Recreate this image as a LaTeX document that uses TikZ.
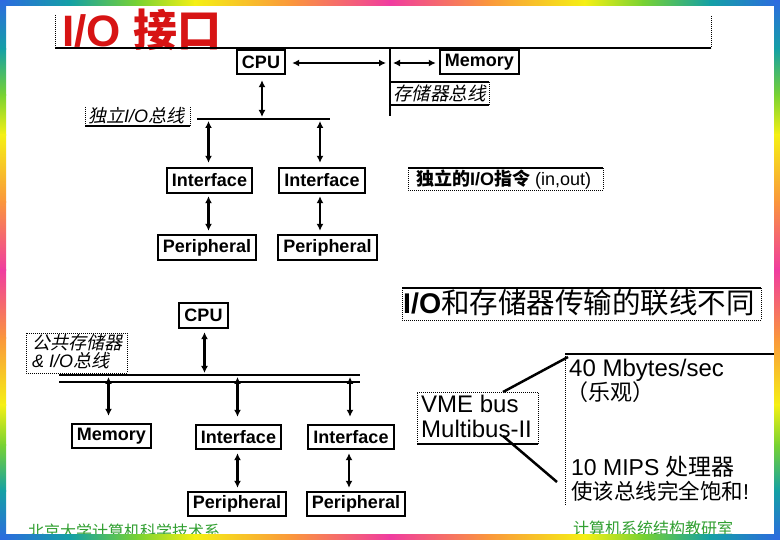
\documentclass[tikz,border=0pt]{standalone}
\usepackage{fontspec}
\setmainfont{Liberation Sans}
\newfontfamily\cjk{Noto Sans CJK SC}
\newfontfamily\cjkit{Noto Sans CJK SC}[FakeSlant=0.22]
\usetikzlibrary{arrows.meta,calc}
\definecolor{rbB}{RGB}{45,105,225}
\definecolor{rbT}{RGB}{20,160,165}
\definecolor{rbG}{RGB}{120,210,50}
\definecolor{rbY}{RGB}{245,240,20}
\definecolor{rbO}{RGB}{250,150,60}
\definecolor{rbP}{RGB}{240,60,160}
\definecolor{titlered}{RGB}{215,20,20}
\definecolor{footgreen}{RGB}{50,160,50}
\begin{document}
\begin{tikzpicture}[x=1pt,y=-1pt,
  box/.style={draw, line width=2.4pt, inner sep=0pt, font=\fontsize{18}{20}\selectfont\bfseries},
  arr/.style={line width=2.5pt, {Latex[length=7pt,width=7pt]}-{Latex[length=7pt,width=7pt]}},
  busline/.style={line width=2.5pt},
  dots/.style={line width=0.8pt, dash pattern=on 0.8pt off 1.2pt},
  thinline/.style={line width=1.1pt},
  lbl/.style={anchor=base west, inner sep=0pt},
  conn/.style={line width=2.5pt},
]
\useasboundingbox (0,0) rectangle (780,540);
\fill[white] (0,0) rectangle (780,540);

% ---------- title ----------
\node[lbl, text=titlered, font=\fontsize{44}{48}\selectfont\bfseries] (title) at (62,47) {I/O {\cjk\bfseries 接口}};
\draw[dots] (55,15) -- (55,48);
\draw[dots] (711,16) -- (711,48);
\draw[line width=1.3pt] (55,48) -- (711,48);

% ---------- upper diagram ----------
\node[box, minimum width=48pt, minimum height=24pt] (cpu1) at (261,62) {CPU};
\node[box, minimum width=79pt, minimum height=24pt] (mem1) at (479.5,62) {Memory};
\node[box, minimum width=85pt, minimum height=25pt] (if1) at (209.5,180.5) {Interface};
\node[box, minimum width=86pt, minimum height=25pt] (if2) at (322,180.5) {Interface};
\node[box, minimum width=98pt, minimum height=25pt] (p1) at (207,247.5) {Peripheral};
\node[box, minimum width=99pt, minimum height=25pt] (p2) at (327.5,247.5) {Peripheral};

\coordinate (mbT) at (390,48);
\coordinate (mbB) at (390,116);
\coordinate (bus1L) at (197,119);
\coordinate (bus1R) at (330,119);
\draw[busline] (mbT) -- (mbB);
\draw[busline] (bus1L) -- (bus1R);

\draw[arr] ($(cpu1.east)+(6,1)$) -- ($(mbT |- cpu1.east)+(-4,1)$);
\draw[arr] ($(mbT |- mem1.west)+(3,1)$) -- ($(mem1.west)+(-3,1)$);
\draw[arr] ($(cpu1.south)+(1,5)$) -- ($(cpu1.south |- bus1L)+(1,-2)$);
\draw[arr] ($(if1.north |- bus1L)+(-1,2)$) -- ($(if1.north)+(-1,-4)$);
\draw[arr] ($(if2.north |- bus1L)+(-2,2)$) -- ($(if2.north)+(-2,-4)$);
\draw[arr] ($(if1.south)+(-1,2)$) -- ($(if1.south |- p1.north)+(-1,-3)$);
\draw[arr] ($(if2.south)+(-2,2)$) -- ($(if2.south |- p2.north)+(-2,-3)$);

% labels upper
\node[lbl, font=\fontsize{18}{20}\selectfont] (lbus1) at (88,123) {{\cjkit 独立}\textit{I/O}{\cjkit 总线}};
\draw[dots] (85,107) -- (85,126);
\draw[dots] (190,107) -- (190,126);
\draw[thinline] (85,126) -- (190,126);

\node[lbl, font=\fontsize{18.5}{20}\selectfont] (lmbus) at (393,101) {{\cjkit 存储器总线}};
\draw[thinline] (390,82) -- (489,82);
\draw[thinline] (390,105) -- (489,105);
\draw[dots] (489,82) -- (489,105);

\node[lbl, font=\fontsize{18}{20}\selectfont] (lins) at (416,186) {{\cjk\bfseries 独立的}\textbf{I/O}{\cjk\bfseries 指令} (in,out)};
\draw[thinline] (408,168) -- (603,168);
\draw[dots] (408,168) -- (408,190) -- (603,190) -- (603,168);

\node[lbl, font=\fontsize{28.5}{30}\selectfont] (ldiff) at (403,314) {\textbf{I/O}{\cjk 和存储器传输的联线不同}};
\draw[thinline] (402,288) -- (761,288);
\draw[dots] (402,288) -- (402,320) -- (761,320) -- (761,288);

% ---------- lower diagram ----------
\node[box, minimum width=49pt, minimum height=25pt] (cpu2) at (203.5,315.5) {CPU};
\node[box, minimum width=79pt, minimum height=24pt] (mem2) at (111.5,436) {Memory};
\node[box, minimum width=85pt, minimum height=24pt] (if3) at (238.5,437) {Interface};
\node[box, minimum width=86pt, minimum height=24pt] (if4) at (351,437) {Interface};
\node[box, minimum width=98pt, minimum height=24pt] (p3) at (237,504) {Peripheral};
\node[box, minimum width=98pt, minimum height=24pt] (p4) at (356,504) {Peripheral};

\coordinate (bus2aL) at (59,375);
\coordinate (bus2aR) at (360,375);
\coordinate (bus2bL) at (59,382);
\coordinate (bus2bR) at (360,382);
\draw[busline] (bus2aL) -- (bus2aR);
\draw[busline] (bus2bL) -- (bus2bR);

\draw[arr] ($(cpu2.south)+(1,3)$) -- ($(cpu2.south |- bus2aL)+(1,-2)$);
\draw[arr] ($(mem2.north |- bus2aL)+(-3,2)$) -- ($(mem2.north)+(-3,-7)$);
\draw[arr] ($(if3.north |- bus2aL)+(-1,2)$) -- ($(if3.north)+(-1,-7)$);
\draw[arr] ($(if4.north |- bus2aL)+(-1,2)$) -- ($(if4.north)+(-1,-7)$);
\draw[arr] ($(if3.south)+(-1,3)$) -- ($(if3.south |- p3.north)+(-1,-3)$);
\draw[arr] ($(if4.south)+(-2,3)$) -- ($(if4.south |- p4.north)+(-2,-3)$);

\node[lbl, font=\fontsize{18}{20}\selectfont] (lbus2a) at (32,350) {{\cjkit 公共存储器}};
\node[lbl, font=\fontsize{18}{20}\selectfont] (lbus2b) at (32,367) {\textit{\& I/O}{\cjkit 总线}};
\draw[dots] (26,333) rectangle (127,373);

% ---------- right notes ----------
\node[lbl, font=\fontsize{24}{26}\selectfont] (vme) at (421,413) {VME bus};
\node[lbl, font=\fontsize{24}{26}\selectfont] (multi) at (421,437) {Multibus-II};
\draw[dots] (417,444) -- (417,392) -- (538,392) -- (538,444);
\draw[thinline] (417,444) -- (538,444);

\node[lbl, font=\fontsize{24}{26}\selectfont] (n40) at (569,377) {40 Mbytes/sec};
\node[lbl, font=\fontsize{22}{24}\selectfont] (nopt) at (566,400) {\cjk （乐观）};
\node[lbl, font=\fontsize{23}{25}\selectfont] (nmips) at (571,475) {10 MIPS {\cjk 处理器}};
\node[lbl, font=\fontsize{21.5}{24}\selectfont] (nsat) at (571,499) {{\cjk 使该总线完全饱和}!};
\draw[thinline] (565,354) -- (775,354);
\draw[dots] (565,354) -- (565,505);
\draw[dots] (775,354) -- (775,505);

\coordinate (c1a) at (503,392);
\coordinate (c1b) at (568,357);
\coordinate (c2a) at (503,436);
\coordinate (c2b) at (557,482);
\draw[conn] (c1a) -- (c1b);
\draw[conn] (c2a) -- (c2b);

% ---------- footers ----------
\node[lbl, text=footgreen, font=\fontsize{16}{18}\selectfont\cjk] (f1) at (28,537) {北京大学计算机科学技术系};
\node[lbl, text=footgreen, font=\fontsize{16}{18}\selectfont\cjk] (f2) at (573,534) {计算机系统结构教研室};

% ---------- rainbow frame ----------
\foreach \a/\b/\cA/\cB in {0/70/rbB/rbT, 70/137/rbT/rbG, 137/195/rbG/rbY, 195/292/rbY/rbO, 292/390/rbO/rbP,
  390/488/rbP/rbO, 488/585/rbO/rbY, 585/643/rbY/rbG, 643/710/rbG/rbT, 710/780/rbT/rbB}{
  \fill[left color=\cA, right color=\cB] ({\a-0.4},0) rectangle ({\b+0.4},6);
  \fill[left color=\cA, right color=\cB] ({\a-0.4},534) rectangle ({\b+0.4},540);
}
\foreach \a/\b/\cA/\cB in {0/49/rbB/rbT, 49/95/rbT/rbG, 95/135/rbG/rbY, 135/202/rbY/rbO, 202/270/rbO/rbP,
  270/338/rbP/rbO, 338/405/rbO/rbY, 405/445/rbY/rbG, 445/491/rbG/rbT, 491/540/rbT/rbB}{
  \fill[top color=\cA, bottom color=\cB] (0,{\a-0.4}) rectangle (6,{\b+0.4});
  \fill[top color=\cA, bottom color=\cB] (774,{\a-0.4}) rectangle (780,{\b+0.4});
}
\end{tikzpicture}
\end{document}
